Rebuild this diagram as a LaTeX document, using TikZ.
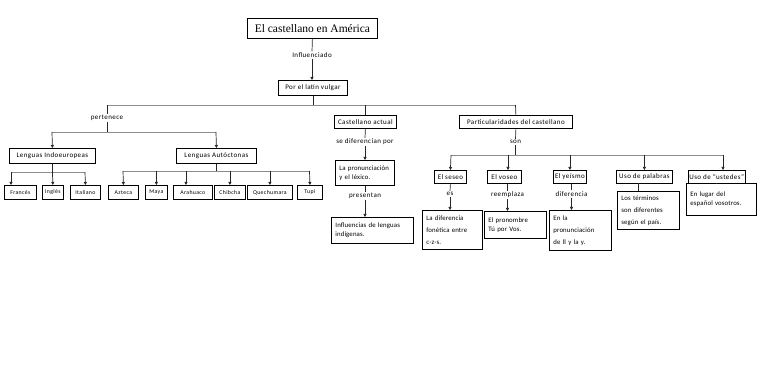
\documentclass[tikz,border=0pt]{standalone}
\usepackage{fontspec}
\setmainfont{Carlito}[LetterSpace=6]
\newfontfamily\plainfont{Carlito}[LetterSpace=2]
\newfontfamily\titlefont{Liberation Serif}
\usetikzlibrary{arrows.meta}
\begin{document}
\begin{tikzpicture}[x=1pt,y=-1pt,
 box/.style={draw=black, line width=0.8pt, inner sep=1pt, anchor=north west, font=\fontsize{7}{8}\selectfont},
 leaf/.style={box, minimum height=14pt, font=\fontsize{5.8}{7}\selectfont},
 mbox/.style={box, align=left, inner sep=4pt, font=\plainfont\fontsize{6.8}{12}\selectfont},
 lbl/.style={inner sep=1pt, font=\fontsize{7}{8}\selectfont},
 con/.style={draw=black!85, line width=0.7pt},
 bus/.style={draw=black!45, line width=0.7pt},
 arr/.style={con, -{Triangle[length=3pt,width=3pt]}}]
\useasboundingbox (0,0) rectangle (768,374);
% top
\node[box, minimum width=130pt, minimum height=20pt, font=\titlefont\fontsize{11.5}{13}\selectfont] (title) at (247,18) {El castellano en América};
\node[lbl] (inf) at (312,55) {Influenciado};
\node[box, minimum width=69pt, minimum height=15pt] (por) at (278,80) {Por el latín vulgar};
% level 2
\node[box, minimum width=62pt, minimum height=13pt] (castact) at (334,115) {Castellano actual};
\node[box, minimum width=113pt, minimum height=13pt] (partic) at (459,115) {Particularidades del castellano};
\node[lbl] (pert) at (107,118) {pertenece};
\node[box, minimum width=86pt, minimum height=15pt] (indo) at (9,148) {Lenguas Indoeuropeas};
\node[box, minimum width=80pt, minimum height=15pt] (auto) at (176,148) {Lenguas Autóctonas};
% leaves
\node[leaf, minimum width=32pt] (frances) at (4,185) {Francés};
\node[leaf, minimum width=21pt] (ingles) at (42,185) {Inglés};
\node[leaf, minimum width=30pt] (italiano) at (70,185) {Italiano};
\node[leaf, minimum width=30pt] (azteca) at (108,185) {Azteca};
\node[leaf, minimum width=22pt] (maya) at (145,185) {Maya};
\node[leaf, minimum width=39pt] (arahuaco) at (173,185) {Arahuaco};
\node[leaf, minimum width=31pt] (chibcha) at (214,185) {Chibcha};
\node[leaf, minimum width=45pt] (quechumara) at (247,185) {Quechumara};
\node[leaf, minimum width=25pt] (tupi) at (297,185) {Tupi};
% castellano actual branch
\node[lbl] (sedif) at (365,142) {se diferencian por};
\node[mbox, text width=51pt, minimum height=25pt] (pron) at (335,160) {La pronunciación\\[-3pt]y el léxico.};
\node[lbl] (pres) at (365,196) {presentan};
\node[mbox, text width=74pt, minimum height=26pt] (influ) at (331,217) {Influencias de lenguas\\[-3pt]indígenas.};
% particularidades branch
\node[lbl] (son) at (515.5,142) {son};
\node[box, minimum width=32pt, minimum height=13pt] (seseo) at (434,170) {El seseo};
\node[box, minimum width=34pt, minimum height=13pt] (voseo) at (487,170) {El voseo};
\node[box, minimum width=33pt, minimum height=13pt] (yeismo) at (553,170) {El yeísmo};
\node[box, minimum width=56pt, minimum height=13pt] (usopal) at (616,170) {Uso de palabras};
\node[box, minimum width=55pt, minimum height=13pt] (usoust) at (688,170) {Uso de “ustedes”};
\node[lbl] (es) at (450,194) {es};
\node[lbl] (reemp) at (507.5,195) {reemplaza};
\node[lbl] (dif) at (571.5,194) {diferencia};
\node[mbox, text width=52pt, minimum height=39pt] (ladif) at (422,210) {La diferencia\\fonética entre\\c-z-s.};
\node[mbox, text width=54pt, minimum height=27pt] (pronom) at (484,211) {El pronombre\\[-3pt]Tú por Vos.};
\node[mbox, text width=54pt, minimum height=40pt] (enla) at (549,210) {En la\\pronunciación\\de ll y la y.};
\node[mbox, text width=54pt, minimum height=37pt] (terminos) at (617,191) {Los términos\\son diferentes\\según el país.};
\node[mbox, text width=62pt, minimum height=32pt] (enlugar) at (686,183) {En lugar del\\[-3pt]español vosotros.};
\coordinate (tA) at (638,183);
% connectors top
\draw[con] (title.south) -- (inf.north);
\draw[arr] (inf.south) -- (inf.south |- por.north);
\coordinate (bA) at (107,105);
\coordinate (bB) at (515.5,105);
\draw[con] (por.south) -- (por.south |- bA);
\draw[bus] (bA) -- (bB);
\draw[con] (bA) -- (pert.north);
\draw[con] (castact.north |- bA) -- (castact.north);
\draw[con] (bB) -- (partic.north);
% pertenece
\coordinate (sA) at (52,132);
\coordinate (sB) at (216,132);
\draw[con] (pert.south) -- (pert.south |- sA);
\draw[bus] (sA) -- (sB);
\draw[arr] (sA) -- (indo.north);
\draw[arr] (sB) -- (auto.north);
% indoeuropeas
\coordinate (iA) at (11,172);
\coordinate (iB) at (85,172);
\draw[con] (indo.south) -- (indo.south |- iA);
\draw[bus] (iA) -- (iB);
\draw[arr] (iA) -- (iA |- frances.north);
\draw[arr] (indo.south |- iA) -- (ingles.north);
\draw[arr] (iB) -- (italiano.north);
% autoctonas
\coordinate (aA) at (123,171);
\coordinate (aB) at (309.5,171);
\coordinate (aC) at (186,171);
\coordinate (vC) at (508,155);
\draw[con] (auto.south) -- (auto.south |- aA);
\draw[bus] (aA) -- (aB);
\draw[arr] (aA) -- (azteca.north);
\draw[arr] (maya.north |- aA) -- (maya.north);
\draw[arr] (aC) -- (aC |- arahuaco.north);
\draw[arr] (chibcha.north |- aA) -- (chibcha.north);
\draw[arr] (quechumara.north |- aA) -- (quechumara.north);
\draw[arr] (aB) -- (tupi.north);
% castellano actual
\draw[con] (castact.south) -- (sedif.north);
\draw[arr] (sedif.south) -- (sedif.south |- pron.north);
\draw[con] (pres.north |- pron.south) -- (pres.north);
\draw[arr] (pres.south) -- (pres.south |- influ.north);
% particularidades
\coordinate (pA) at (451,155);
\coordinate (pB) at (723,155);
\draw[con] (partic.south) -- (son.north);
\draw[con] (son.south) -- (son.south |- pA);
\draw[bus] (pA) -- (pB);
\draw[arr] (pA) -- (seseo.north);
\draw[arr] (vC) -- (vC |- voseo.north);
\draw[arr] (yeismo.north |- pA) -- (yeismo.north);
\draw[arr] (usopal.north |- pA) -- (usopal.north);
\draw[arr] (pB) -- (pB |- usoust.north);
\draw[con] (seseo.south) -- (es.north);
\draw[arr] (es.south) -- (es.south |- ladif.north);
\draw[con] (reemp.north |- voseo.south) -- (reemp.north);
\draw[arr] (reemp.south) -- (reemp.south |- pronom.north);
\draw[con] (dif.north |- yeismo.south) -- (dif.north);
\draw[arr] (dif.south) -- (dif.south |- enla.north);
\draw[con] (tA) -- (tA |- terminos.north);
\draw[con] (usoust.south) -- (usoust.south |- enlugar.north);
\end{tikzpicture}
\end{document}
